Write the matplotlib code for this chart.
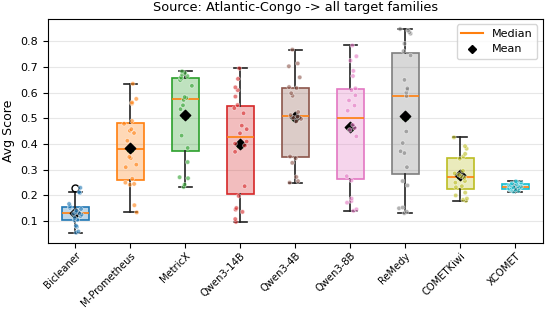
import matplotlib
matplotlib.use("Agg")
import matplotlib.pyplot as plt
from matplotlib.lines import Line2D
import numpy as np
import pandas as pd
import seaborn as sns

models = ["Bicleaner", "M-Prometheus", "MetricX", "Qwen3-14B", "Qwen3-4B",
          "Qwen3-8B", "ReMedy", "COMETKiwi", "XCOMET"]

bicleaner = [0.055, 0.06, 0.078, 0.082, 0.103, 0.105, 0.112, 0.12, 0.125, 0.129,
             0.131, 0.135, 0.14, 0.147, 0.152, 0.157, 0.167, 0.21, 0.213, 0.230]
m_prometheus = [0.134, 0.162, 0.242, 0.245, 0.25, 0.265, 0.31, 0.32, 0.345, 0.35,
                0.413, 0.443, 0.452, 0.458, 0.479, 0.49, 0.558, 0.562, 0.576, 0.635]
metricx = [0.233, 0.242, 0.267, 0.271, 0.33, 0.385, 0.433, 0.536, 0.551, 0.572,
           0.58, 0.583, 0.627, 0.649, 0.655, 0.66, 0.665, 0.67, 0.677, 0.683]
qwen3_14b = [0.097, 0.108, 0.136, 0.145, 0.151, 0.198, 0.236, 0.37, 0.394, 0.402, 0.41,
             0.442, 0.458, 0.472, 0.52, 0.54, 0.552, 0.585, 0.61, 0.621, 0.654, 0.695]
qwen3_4b = [0.25, 0.256, 0.272, 0.327, 0.345, 0.352, 0.488, 0.498, 0.503, 0.507,
            0.513, 0.525, 0.588, 0.598, 0.618, 0.622, 0.66, 0.703, 0.714, 0.768]
qwen3_8b = [0.14, 0.146, 0.172, 0.178, 0.188, 0.258, 0.275, 0.43, 0.455, 0.462, 0.475,
            0.53, 0.55, 0.57, 0.59, 0.61, 0.617, 0.665, 0.685, 0.725, 0.742, 0.784]
remedy = [0.131, 0.136, 0.15, 0.153, 0.239, 0.256, 0.31, 0.365, 0.372, 0.404, 0.449, 0.587,
          0.60, 0.612, 0.617, 0.65, 0.745, 0.762, 0.791, 0.83, 0.836, 0.842, 0.848]
cometkiwi = [0.179, 0.183, 0.188, 0.20, 0.211, 0.232, 0.236, 0.25, 0.256, 0.268,
             0.275, 0.28, 0.286, 0.296, 0.343, 0.352, 0.362, 0.382, 0.392, 0.426]
xcomet = [0.215, 0.218, 0.22, 0.222, 0.223, 0.225, 0.227, 0.229, 0.23, 0.232,
          0.234, 0.236, 0.239, 0.241, 0.243, 0.245, 0.247, 0.25, 0.252, 0.255]

scores = [bicleaner, m_prometheus, metricx, qwen3_14b, qwen3_4b,
          qwen3_8b, remedy, cometkiwi, xcomet]

# tab10 without the purple
tab10 = plt.get_cmap("tab10").colors
colors = [tab10[i] for i in (0, 1, 2, 3, 5, 6, 7, 8, 9)]

df = pd.DataFrame([(m, v) for m, vals in zip(models, scores) for v in vals],
                  columns=["model", "score"])

fig = plt.figure(figsize=(5.45, 3.09), dpi=100)
ax = fig.add_axes([0.088, 0.214, 0.908, 0.725])

positions = np.arange(len(models))
bp = ax.boxplot(scores, positions=positions, widths=0.5, patch_artist=True,
                showmeans=True,
                medianprops=dict(color="#ff7f0e", linewidth=1.2),
                whiskerprops=dict(color="#222222", linewidth=1.2),
                capprops=dict(color="#222222", linewidth=1.2),
                flierprops=dict(marker="o", markerfacecolor="none",
                                markeredgecolor="black", markersize=5),
                meanprops=dict(marker="^", markerfacecolor="#2ca02c",
                               markeredgecolor="#2ca02c", markersize=5))
for patch, c in zip(bp["boxes"], colors):
    patch.set_facecolor((*c, 0.3))
    patch.set_edgecolor(c)
    patch.set_linewidth(1.2)

means = [np.mean(v) for v in scores]
ax.scatter(positions, means, marker="D", color="black", s=28, zorder=3)

np.random.seed(0)
sns.stripplot(data=df, x="model", y="score", hue="model", order=models,
              hue_order=models, palette=colors, jitter=0.12, size=3.2,
              alpha=0.6, edgecolor="white", linewidth=0.5, legend=False,
              ax=ax, zorder=4)

ax.set_xlim(-0.5, len(models) - 0.5)
ax.set_xticks(positions)
ax.set_xticklabels(models, rotation=45, ha="right", rotation_mode="anchor", fontsize=7.2)
ax.tick_params(axis="x", pad=2)
ax.tick_params(axis="y", labelsize=8)
ax.set_xlabel("")
ax.set_ylabel("Avg Score", fontsize=9)
ax.set_title("Source: Atlantic-Congo -> all target families", fontsize=9.3)
ax.grid(axis="y", alpha=0.3)
ax.set_axisbelow(True)

handles = [Line2D([0], [0], color="#ff7f0e", linewidth=1.5, label="Median"),
           Line2D([0], [0], marker="D", color="black", linestyle="none",
                  markersize=4.5, label="Mean")]
ax.legend(handles=handles, loc="upper right", fontsize=8)

fig.savefig("out.png", dpi=100)
